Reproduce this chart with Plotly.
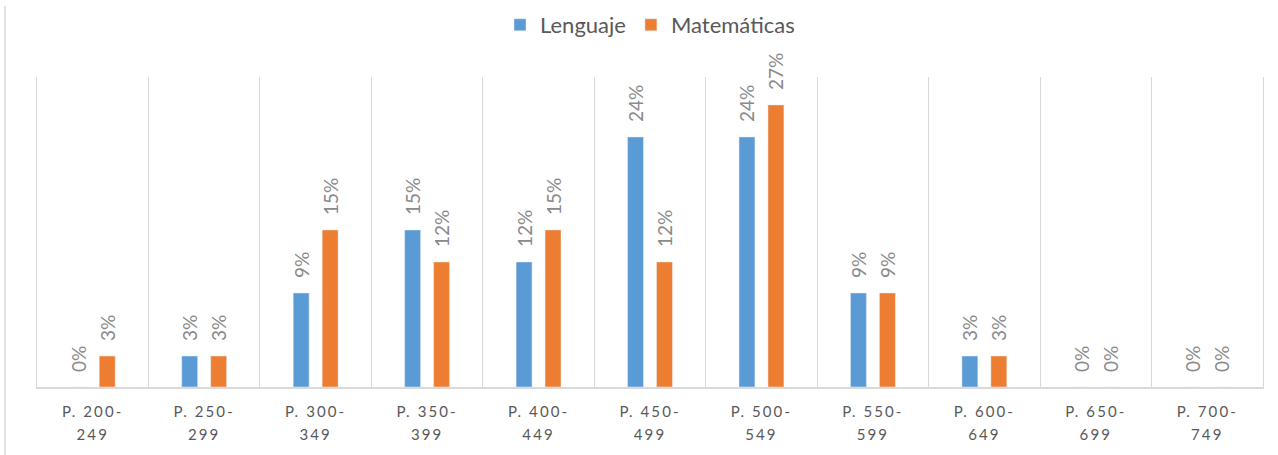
import plotly.graph_objects as go

categories = ["P. 200-249", "P. 250-299", "P. 300-349", "P. 350-399", "P. 400-449",
              "P. 450-499", "P. 500-549", "P. 550-599", "P. 600-649", "P. 650-699", "P. 700-749"]
lenguaje = [0.0, 0.03, 0.091, 0.152, 0.121, 0.242, 0.242, 0.091, 0.03, 0.0, 0.0]
matematicas = [0.03, 0.03, 0.152, 0.121, 0.152, 0.121, 0.273, 0.091, 0.03, 0.0, 0.0]

SPAN = "<span style='font-size:15px;letter-spacing:2.1px'>"

tick_text = []
for c in categories:
    a, b = c.split("-")
    tick_text.append(SPAN + a + "-</span><br>" + SPAN + b + "</span>")

W, H = 1278, 455
ml, mr, mt, mb = 37, 15, 77, 68
pw, ph = W - ml - mr, H - mt - mb

fig = go.Figure()
for name, vals, color in [("Lenguaje", lenguaje, "#5b9bd5"), ("Matemáticas", matematicas, "#ed7d31")]:
    fig.add_trace(go.Bar(
        x=categories, y=vals, name=name, marker_color=color,
        texttemplate="\u2002\u2009%{y:.0%}", textposition="outside", textangle=-90,
        constraintext="none",
        textfont=dict(family="Lato", size=19, color="#8a8a8a"),
        cliponaxis=False,
    ))

fig.update_layout(
    width=W, height=H,
    margin=dict(l=ml, r=mr, t=mt, b=mb, autoexpand=False),
    paper_bgcolor="white", plot_bgcolor="white",
    barmode="group", bargap=0.48, bargroupgap=0.45,
    showlegend=True,
    legend=dict(orientation="h", x=0.5 + 11 / W, xanchor="center", xref="container",
                y=1 - 25 / H, yanchor="middle", yref="container",
                font=dict(family="Lato", size=22, color="#595959"),
                traceorder="normal", itemwidth=30),
    xaxis=dict(type="category", tickmode="array", tickvals=categories, ticktext=tick_text,
               tickson="boundaries", ticklen=0, showgrid=True, gridcolor="#d9d9d9", gridwidth=1,
               showline=True, linecolor="#d9d9d9", linewidth=2, automargin=False,
               ticklabelstandoff=6,
               tickfont=dict(family="Lato", size=18, color="#595959"), tickangle=0),
    yaxis=dict(range=[0, 0.30], showticklabels=False, showgrid=False, zeroline=False,
               showline=True, mirror=True, linecolor="#d9d9d9", linewidth=1, ticks="",
               automargin=False),
    shapes=[dict(type="line", xref="paper", yref="paper",
                 x0=(5 - ml) / pw, x1=(5 - ml) / pw,
                 y0=(H - mt) / ph + 0.01, y1=-(mb) / ph - 0.01,
                 line=dict(color="#d9d9d9", width=1.5))],
    font=dict(family="Lato"),
)

fig.write_html("out.html", config={"displayModeBar": False},
               post_script="document.body.style.margin='0';document.body.style.overflow='hidden';")
